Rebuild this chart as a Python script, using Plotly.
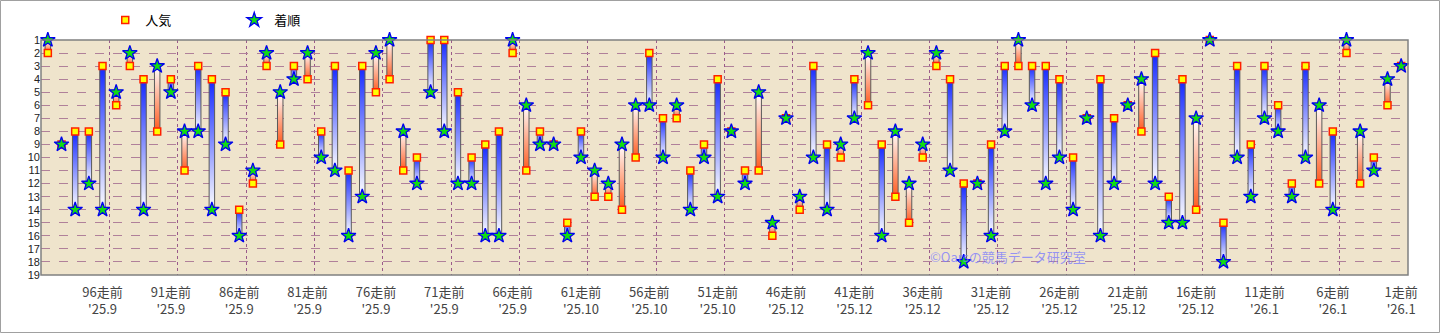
import plotly.graph_objects as go

# ---- data (index 0 = 100走前 ... index 99 = 1走前) ----
popularity = [2, 9, 8, 8, 3, 6, 3, 4, 8, 4,
              11, 3, 4, 5, 14, 12, 3, 9, 3, 4,
              8, 3, 11, 3, 5, 4, 11, 10, 1, 1,
              5, 10, 9, 8, 2, 11, 8, 9, 15, 8,
              13, 13, 14, 10, 2, 7, 7, 11, 9, 4,
              8, 11, 11, 16, 7, 14, 3, 9, 10, 4,
              6, 9, 13, 15, 10, 3, 4, 12, 12, 9,
              3, 3, 3, 3, 4, 10, 7, 4, 7, 6,
              8, 2, 13, 4, 14, 1, 15, 3, 9, 3,
              6, 12, 3, 12, 8, 2, 12, 10, 6, 3]
finish = [1, 9, 14, 12, 14, 5, 2, 14, 3, 5,
          8, 8, 14, 9, 16, 11, 2, 5, 4, 2,
          10, 11, 16, 13, 2, 1, 8, 12, 5, 8,
          12, 12, 16, 16, 1, 6, 9, 9, 16, 10,
          11, 12, 9, 6, 6, 10, 6, 14, 10, 13,
          8, 12, 5, 15, 7, 13, 10, 14, 9, 7,
          2, 16, 8, 12, 9, 2, 11, 18, 12, 16,
          8, 1, 6, 12, 10, 14, 7, 16, 12, 6,
          4, 12, 15, 15, 7, 1, 18, 10, 13, 7,
          8, 13, 10, 6, 14, 1, 8, 11, 4, 3]
race_labels = ['96走前', '91走前', '86走前', '81走前', '76走前', '71走前', '66走前',
               '61走前', '56走前', '51走前', '46走前', '41走前', '36走前', '31走前',
               '26走前', '21走前', '16走前', '11走前', '6走前', '1走前']
date_labels = ["'25.9", "'25.9", "'25.9", "'25.9", "'25.9", "'25.9", "'25.9",
               "'25.10", "'25.10", "'25.10", "'25.12", "'25.12", "'25.12", "'25.12",
               "'25.12", "'25.12", "'25.12", "'26.1", "'26.1", "'26.1"]
y_ticks = list(range(1, 20))

n = len(popularity)
xs = list(range(n))
tick_pos = [n - 1 - (int(r.replace('走前', '')) - 1) for r in race_labels]
tick_text = [f"{r}<br>{d}" for r, d in zip(race_labels, date_labels)]
grid_pos = [p + 0.5 for p in tick_pos[:-1]]

FONT = "Noto Sans CJK JP"
fig = go.Figure()

hw = 0.2
for i, (p, f) in enumerate(zip(popularity, finish)):
    if p == f:
        continue
    col = '#1428ff' if f > p else '#ff5a1e'
    fig.add_trace(go.Scatter(
        x=[i - hw, i + hw, i + hw, i - hw, i - hw],
        y=[p, p, f, f, p],
        mode='lines', fill='toself',
        line=dict(color='#5a5a5a', width=1),
        fillgradient=dict(type='vertical', start=p, stop=f,
                          colorscale=[[0, col], [1, '#ffffff']]),
        showlegend=False, hoverinfo='skip'))

fig.add_trace(go.Scatter(
    x=xs, y=popularity, mode='markers', name='人気', cliponaxis=False,
    marker=dict(symbol='square', size=7, color='#ffff00',
                line=dict(color='#ff2000', width=1.5))))
fig.add_trace(go.Scatter(
    x=xs, y=finish, mode='markers', name='着順', cliponaxis=False,
    marker=dict(symbol='star', size=11, color='#11dd11',
                line=dict(color='#0000ee', width=1.3))))

fig.add_annotation(xref='paper', yref='paper', x=0.649, y=0.077,
                   xanchor='left', yanchor='middle', showarrow=False,
                   text='©Oarsの競馬データ研究室',
                   font=dict(family=FONT, size=13, color='rgba(120,120,255,0.75)'))

# outer frame
fig.add_shape(type='rect', xref='paper', yref='paper', x0=-40.5/1367, x1=1+31.5/1367,
              y0=-57.5/235, y1=1+39.5/235, line=dict(color='#a0a0a0', width=1))
# plot frame
fig.add_shape(type='rect', xref='paper', yref='paper', x0=0, x1=1, y0=0, y1=1,
              line=dict(color='#808080', width=1.5))

fig.update_layout(
    width=1440, height=333,
    margin=dict(l=41, r=32, t=40, b=58, autoexpand=False),
    paper_bgcolor='#ffffff', plot_bgcolor='#efe4cc',
    font=dict(family=FONT, size=12, color='#222222'),
    showlegend=True,
    legend=dict(orientation='h', x=0.047, y=1.085, xanchor='left', yanchor='middle',
                entrywidth=84, entrywidthmode='pixels',
                font=dict(family=FONT, size=13, color='#000000'),
                bgcolor='rgba(0,0,0,0)'),
    xaxis=dict(range=[-0.5, n - 0.5], tickvals=tick_pos, ticktext=tick_text,
               showgrid=False, zeroline=False, ticks='', showline=False,
               ticklabelstandoff=8, automargin=False,
               tickfont=dict(family=FONT, size=13, color='#444444'),
               minor=dict(tickvals=grid_pos, showgrid=True, gridcolor='#9a5a8a',
                          griddash='dot', gridwidth=1, ticks='')),
    yaxis=dict(range=[19, 1], tickvals=y_ticks, showgrid=True,
               gridcolor='#b0809a', griddash='dash', gridwidth=1,
               zeroline=False, ticks='', showline=False, automargin=False,
               tickfont=dict(family='Liberation Sans', size=11, color='#222222')),
)

fig.write_html("out.html",
               post_script="document.body.style.margin='0';document.body.style.padding='0';")
